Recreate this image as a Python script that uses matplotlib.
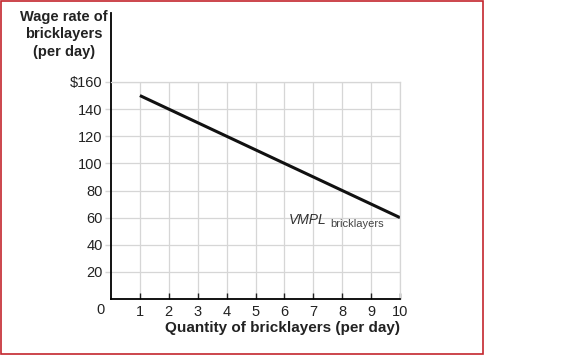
import matplotlib.pyplot as plt
from matplotlib.patches import Rectangle

plt.rcParams['font.family'] = ['Liberation Sans', 'DejaVu Sans']

# VMPL schedule for bricklayers
quantity = [1, 10]
wage = [150, 60]
x_ticks = [1, 2, 3, 4, 5, 6, 7, 8, 9, 10]
y_ticks = [20, 40, 60, 80, 100, 120, 140, 160]
y_labels = ['20', '40', '60', '80', '100', '120', '140', '$160']

fig = plt.figure(figsize=(5.81, 3.56), dpi=100)
ax = fig.add_axes([111 / 581, 57 / 356, 289 / 581, 217 / 356])

# red frame round the whole thing
fig.patches.append(Rectangle((1 / 581, 2 / 356), 482 / 581, 353 / 356, transform=fig.transFigure,
                             fill=False, edgecolor='#c4262e', linewidth=1.2))

ax.set_xlim(0, 10)
ax.set_ylim(0, 160)
ax.set_xticks(x_ticks)
ax.set_yticks(y_ticks)
ax.set_yticklabels(y_labels)
ax.grid(True, color='#d6d6d6', linewidth=0.9)
ax.set_axisbelow(True)

for s in ['top', 'right']:
    ax.spines[s].set_color('#d6d6d6')
    ax.spines[s].set_linewidth(0.9)
ax.spines['left'].set_visible(False)
ax.spines['bottom'].set_linewidth(1.3)
ax.plot([0, 0], [0, 211], color='black', linewidth=1.3, clip_on=False)

ax.tick_params(axis='x', direction='in', length=4, width=1, colors='#222222', labelsize=10.5, pad=4)
ax.tick_params(axis='y', direction='out', length=4, width=1, colors='#d6d6d6', labelcolor='#222222',
               labelsize=10.5, pad=2)
ax.text(-0.38, -0.051, '0', transform=ax.get_xaxis_transform(), ha='center', va='center',
        fontsize=10.5, color='#222222')

ax.plot(quantity, wage, color='#111111', linewidth=2.2, solid_capstyle='butt')

t = ax.text(6.15, 58, 'VMPL', style='italic', fontsize=10, color='#333333', ha='left', va='center')
ax.annotate('bricklayers', xy=(1, 0), xycoords=t, xytext=(2.5, -1.5), textcoords='offset points',
            fontsize=8, color='#444444', ha='left', va='bottom')

ax.set_xlabel('Quantity of bricklayers (per day)', fontsize=11, fontweight='bold', color='#222222',
              labelpad=2, loc='right')
fig.text(108 / 581, 1 - 10 / 356, 'Wage rate of\nbricklayers\n(per day)', ha='right', va='top',
         fontsize=10.5, fontweight='bold', color='#222222', linespacing=1.3, multialignment='center')

fig.savefig('out.png', dpi=100)
